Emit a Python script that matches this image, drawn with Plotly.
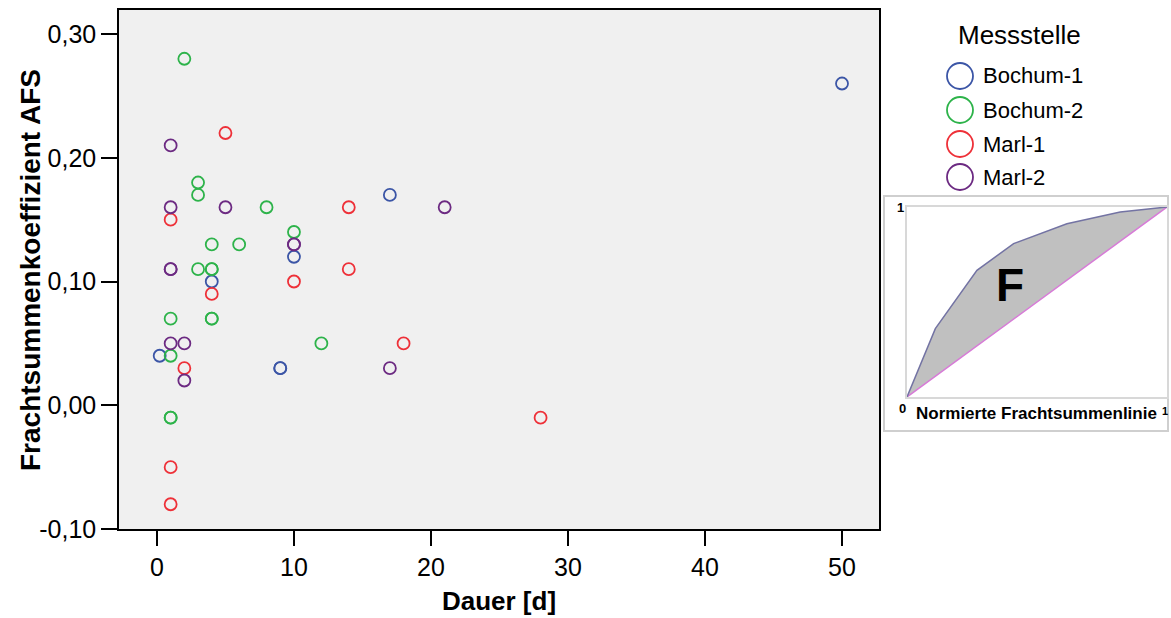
import plotly.graph_objects as go

W, H = 1171, 618

# ---- data ----
series_names = ["Bochum-1", "Bochum-2", "Marl-1", "Marl-2"]
series_colors = ["#3B55A6", "#2DB34A", "#EE3038", "#6C2A82"]

bochum1_x = [50, 17, 10, 4, 9, 9, 0.2]
bochum1_y = [0.26, 0.17, 0.12, 0.10, 0.03, 0.03, 0.04]

bochum2_x = [2, 3, 3, 8, 10, 4, 6, 3, 4, 4, 1, 4, 4, 1, 12, 1, 1]
bochum2_y = [0.28, 0.18, 0.17, 0.16, 0.14, 0.13, 0.13, 0.11, 0.11, 0.11,
             0.07, 0.07, 0.07, 0.04, 0.05, -0.01, -0.01]

marl1_x = [5, 1, 14, 14, 10, 4, 2, 18, 28, 1, 1]
marl1_y = [0.22, 0.15, 0.16, 0.11, 0.10, 0.09, 0.03, 0.05, -0.01, -0.05, -0.08]

marl2_x = [1, 1, 5, 21, 10, 10, 1, 1, 1, 2, 2, 17]
marl2_y = [0.21, 0.16, 0.16, 0.16, 0.13, 0.13, 0.11, 0.11, 0.05, 0.05, 0.02, 0.03]

y_tickvals = [-0.10, 0.00, 0.10, 0.20, 0.30]
y_ticktext = ["-0,10", "0,00", "0,10", "0,20", "0,30"]
x_tickvals = [0, 10, 20, 30, 40, 50]

# inset (normierte Frachtsummenlinie)
inset_x = [0, 0.109, 0.269, 0.41, 0.615, 0.82, 1]
inset_y = [0, 0.36, 0.667, 0.807, 0.912, 0.974, 1]

series_x = [bochum1_x, bochum2_x, marl1_x, marl2_x]
series_y = [bochum1_y, bochum2_y, marl1_y, marl2_y]

def px(x):
    return x / W

def py(y):
    return 1 - y / H

fig = go.Figure()

for name, col, xs, ys in zip(series_names, series_colors, series_x, series_y):
    fig.add_trace(go.Scatter(
        x=xs, y=ys, mode="markers", name=name, showlegend=False,
        marker=dict(symbol="circle-open", size=12, color=col,
                    line=dict(width=1.8, color=col)),
        xaxis="x", yaxis="y"))

# inset traces
fig.add_trace(go.Scatter(
    x=inset_x + [0], y=inset_y + [0], mode="lines", fill="toself",
    fillcolor="#C0C0C0", line=dict(width=0), showlegend=False,
    xaxis="x2", yaxis="y2", hoverinfo="skip"))
fig.add_trace(go.Scatter(
    x=[0, 1], y=[0, 1], mode="lines", line=dict(color="#D77BD7", width=1.5),
    showlegend=False, xaxis="x2", yaxis="y2", hoverinfo="skip"))
fig.add_trace(go.Scatter(
    x=inset_x, y=inset_y, mode="lines", line=dict(color="#7373A3", width=1.5),
    showlegend=False, xaxis="x2", yaxis="y2", hoverinfo="skip"))

# plot area pixels
L, R, T, B = 119, 879, 10, 529

shapes = []
# inset frame
shapes.append(dict(type="rect", xref="paper", yref="paper",
                   x0=px(884), x1=px(1168), y0=py(431), y1=py(196),
                   line=dict(color="#CFCFCF", width=2), fillcolor="white",
                   layer="below"))

annotations = []
# y axis title
annotations.append(dict(text="<b>Frachtsummenkoeffizient AFS</b>", x=px(30),
                        y=py(270), xref="paper", yref="paper", showarrow=False,
                        textangle=-90, xanchor="center", yanchor="middle",
                        font=dict(size=28, color="black")))
# legend (custom, for large symbols)
annotations.append(dict(text="Messstelle", x=px(1019), y=py(35), xref="paper",
                        yref="paper", showarrow=False, xanchor="center",
                        yanchor="middle", font=dict(size=26, color="black")))
leg_y = [76, 110, 144, 177]
for name, col, ly in zip(series_names, series_colors, leg_y):
    r = 13
    shapes.append(dict(type="circle", xref="paper", yref="paper",
                       x0=px(960 - r), x1=px(960 + r), y0=py(ly + r), y1=py(ly - r),
                       line=dict(color=col, width=1.8)))
    annotations.append(dict(text=name, x=px(981), y=py(ly), xref="paper",
                            yref="paper", showarrow=False, xanchor="left",
                            yanchor="middle", font=dict(size=22, color="black")))

# inset labels
narrow = "Liberation Sans Narrow, Arial Narrow, Arial"
annotations += [
    dict(text="<b>F</b>", x=px(1010), y=py(285), xref="paper", yref="paper",
         showarrow=False, xanchor="center", yanchor="middle",
         font=dict(size=46, color="black", family=narrow)),
    dict(text="<b>1</b>", x=px(900), y=py(207), xref="paper", yref="paper",
         showarrow=False, xanchor="center", yanchor="middle",
         font=dict(size=13, color="black", family=narrow)),
    dict(text="<b>0</b>", x=px(902), y=py(408), xref="paper", yref="paper",
         showarrow=False, xanchor="center", yanchor="middle",
         font=dict(size=13, color="black", family=narrow)),
    dict(text="<b>1</b>", x=px(1165), y=py(411), xref="paper", yref="paper",
         showarrow=False, xanchor="center", yanchor="middle",
         font=dict(size=11, color="black", family=narrow)),
    dict(text="<b>Normierte Frachtsummenlinie</b>", x=px(1036), y=py(413),
         xref="paper", yref="paper", showarrow=False, xanchor="center",
         yanchor="middle",
         font=dict(size=17, color="black", family=narrow)),
]

fig.update_layout(
    width=W, height=H,
    margin=dict(l=0, r=0, t=0, b=0),
    paper_bgcolor="white",
    plot_bgcolor="#F0F0F0",
    font=dict(family="Arial, Liberation Sans, sans-serif", color="black"),
    showlegend=False,
    xaxis=dict(domain=[px(L), px(R)], range=[-2.77, 52.7],
               tickvals=x_tickvals, ticks="outside", ticklen=15, tickwidth=1.5,
               tickcolor="black", showline=True, linecolor="black",
               linewidth=1.5, mirror=True, showgrid=False, zeroline=False,
               tickfont=dict(size=25, family=narrow),
               title=dict(text="<b>Dauer [d]</b>", standoff=12,
                          font=dict(size=26, family=narrow)),
               anchor="y", automargin=False),
    yaxis=dict(domain=[py(B), py(T)], range=[-0.10, 0.3194],
               tickvals=y_tickvals, ticktext=y_ticktext, ticks="outside",
               ticklen=16, tickwidth=1.5, tickcolor="black", showline=True,
               linecolor="black", linewidth=1.5, mirror=True, showgrid=False,
               zeroline=False, tickfont=dict(size=25),
               anchor="x", automargin=False),
    xaxis2=dict(domain=[px(907), px(1167)], range=[0, 1], showgrid=False,
                zeroline=False, showticklabels=False, ticks="", showline=True,
                linecolor="#D8D8D8", linewidth=1.5, mirror=True, anchor="y2"),
    yaxis2=dict(domain=[py(397), py(207)], range=[0, 1], showgrid=False,
                zeroline=False, showticklabels=False, ticks="", showline=True,
                linecolor="#D8D8D8", linewidth=1.5, mirror=True, anchor="x2"),
    shapes=shapes,
    annotations=annotations,
)

fig.write_html(
    "out.html",
    config={"displayModeBar": False},
    post_script="document.body.style.margin='0';document.body.style.overflow='hidden';",
)
